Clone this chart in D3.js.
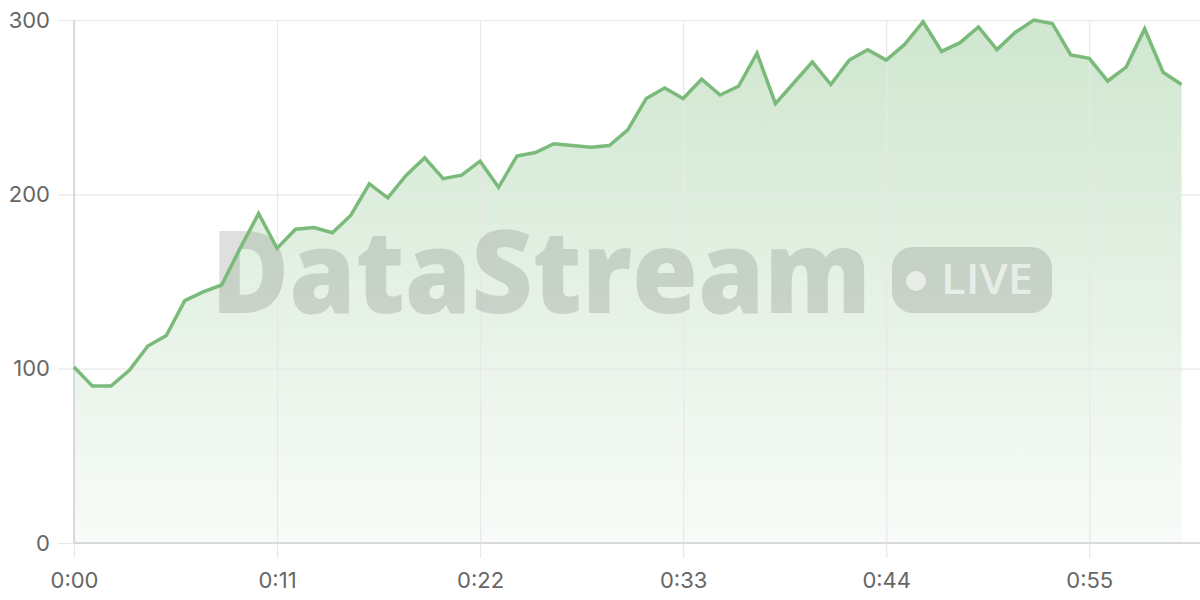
<!DOCTYPE html>
<html>
<head>
<meta charset="utf-8">
<script src="https://cdn.jsdelivr.net/npm/d3@7"></script>
<style>
html,body{margin:0;padding:0;background:#fff;}
svg{display:block;}
</style>
</head>
<body>
<svg id="chart" width="1200" height="600"></svg>
<script>
// Data: one value per second, 0:00 .. 1:00
const seconds = d3.range(0, 61);
const values = [101, 90, 90, 99, 113, 119, 139, 144, 148, 169, 189, 169, 180, 181, 178, 188, 206, 198, 211, 221,
                209, 211, 219, 204, 222, 224, 229, 228, 227, 228, 237, 255, 261, 255, 266, 257, 262, 281, 252, 264,
                276, 263, 277, 283, 277, 286, 299, 282, 287, 296, 283, 293, 300, 298, 280, 278, 265, 273, 295, 270, 263];
const xTicks = [0, 11, 22, 33, 44, 55];
const yTicks = [0, 100, 200, 300];
const watermarkText = "DataStream";
const badgeText = "LIVE";

const data = seconds.map((s, i) => ({s, v: values[i]}));

const svg = d3.select("#chart");
const mLeft = 74, mRight = 1200, mTop = 20, mBottom = 543;
const x = d3.scaleLinear().domain([0, 61]).range([mLeft, mRight]);
const y = d3.scaleLinear().domain([0, 300]).range([mBottom, mTop]);
const green = "#7aba7a";

const defs = svg.append("defs");
const grad = defs.append("linearGradient").attr("id", "areaGrad")
  .attr("gradientUnits", "userSpaceOnUse")
  .attr("x1", 0).attr("x2", 0).attr("y1", y(300)).attr("y2", y(0));
grad.append("stop").attr("offset", "0%").attr("stop-color", green).attr("stop-opacity", 0.36);
grad.append("stop").attr("offset", "100%").attr("stop-color", green).attr("stop-opacity", 0.05);

// Area
svg.append("path").datum(data)
  .attr("fill", "url(#areaGrad)")
  .attr("d", d3.area().x(d => x(d.s)).y0(y(0)).y1(d => y(d.v)));

// Grid + axes
const fmt = d => "0:" + String(d).padStart(2, "0");
const yAxis = svg.append("g").attr("transform", `translate(58,0)`)
  .call(d3.axisLeft(y).tickValues(yTicks).tickSize(-(mRight - 58)).tickPadding(8));
yAxis.select(".domain").remove();
yAxis.selectAll(".tick line").attr("stroke", "#e8e8e8").attr("stroke-width", 1.2);
yAxis.selectAll(".tick text").attr("fill", "#666").attr("font-size", 22)
  .attr("font-family", "Inter, 'Open Sans', sans-serif");

const xAxis = svg.append("g").attr("transform", `translate(0,558)`)
  .call(d3.axisBottom(x).tickValues(xTicks).tickFormat(fmt).tickSize(-(558 - mTop)).tickPadding(14));
xAxis.select(".domain").remove();
xAxis.selectAll(".tick line").attr("stroke", "#e8e8e8").attr("stroke-width", 1.2);
xAxis.selectAll(".tick text").attr("fill", "#666").attr("font-size", 22)
  .attr("font-family", "Inter, 'Open Sans', sans-serif");

// axis lines
svg.append("line").attr("x1", mLeft).attr("x2", mLeft).attr("y1", mTop).attr("y2", mBottom)
  .attr("stroke", "#d2d2d2").attr("stroke-width", 1.5);
svg.append("line").attr("x1", mLeft).attr("x2", mRight).attr("y1", mBottom).attr("y2", mBottom)
  .attr("stroke", "#d2d2d2").attr("stroke-width", 1.5);

// Watermark
const wm = svg.append("g").attr("pointer-events", "none");
wm.append("text").text(watermarkText)
  .attr("x", 211).attr("y", 313)
  .attr("font-family", "'Open Sans', 'Noto Sans', sans-serif")
  .attr("font-weight", 800).attr("font-size", 116)
  .attr("textLength", 660).attr("lengthAdjust", "spacingAndGlyphs")
  .attr("fill", "rgba(0,0,0,0.125)");
wm.append("rect").attr("x", 892).attr("y", 247).attr("width", 160).attr("height", 66).attr("rx", 21)
  .attr("fill", "rgba(0,0,0,0.125)");
wm.append("circle").attr("cx", 916).attr("cy", 281).attr("r", 10)
  .attr("fill", "rgba(255,255,255,0.6)");
wm.append("text").text(badgeText)
  .attr("x", 941).attr("y", 294)
  .attr("font-family", "'Open Sans', 'Noto Sans', sans-serif")
  .attr("font-weight", 600).attr("font-size", 42)
  .attr("textLength", 92).attr("lengthAdjust", "spacingAndGlyphs")
  .attr("fill", "rgba(255,255,255,0.6)");

// Line
svg.append("path").datum(data)
  .attr("fill", "none").attr("stroke", green).attr("stroke-width", 3.5)
  .attr("stroke-linejoin", "miter")
  .attr("d", d3.line().x(d => x(d.s)).y(d => y(d.v)));
</script>
</body>
</html>
